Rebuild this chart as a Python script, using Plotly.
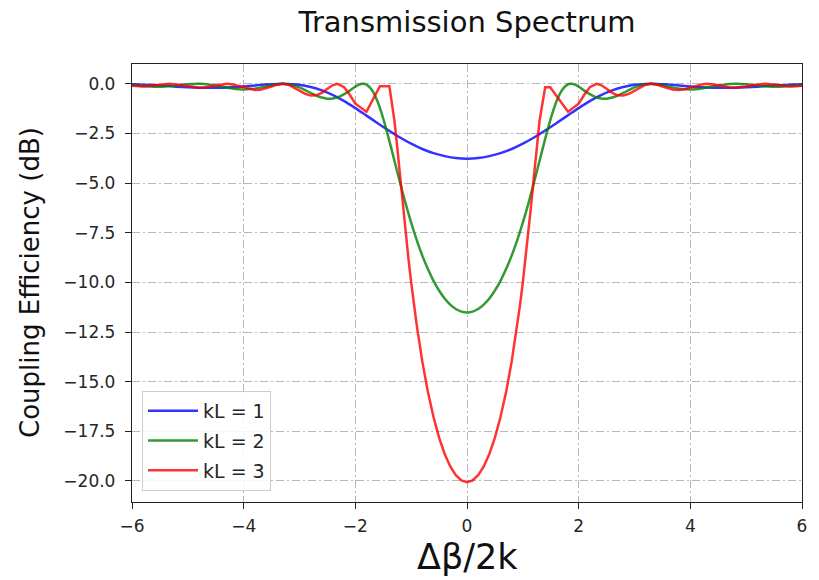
import plotly.graph_objects as go

# ---------------- data ----------------
blue_x_left = [-6.0, -5.8, -5.6, -5.4, -5.2, -5.0, -4.8, -4.6, -4.4, -4.2, -4.0, -3.8, -3.6, -3.4, -3.3, -3.2,
               -3.0, -2.8, -2.6, -2.4, -2.2, -2.0, -1.8, -1.6, -1.4, -1.2, -1.0, -0.8, -0.6, -0.4, -0.2]
blue_y_left = [-0.02, -0.04, -0.07, -0.10, -0.14, -0.17, -0.19, -0.20, -0.19, -0.17, -0.13, -0.08, -0.035, -0.005, 0.0, -0.005,
               -0.05, -0.16, -0.33, -0.57, -0.87, -1.22, -1.60, -1.98, -2.35, -2.70, -3.01, -3.28, -3.49, -3.64, -3.74]
blue_x_right = [0.0, 0.2, 0.4, 0.6, 0.8, 1.0, 1.2, 1.4, 1.6, 1.8, 2.0, 2.2, 2.4, 2.6, 2.8, 3.0,
                3.2, 3.3, 3.4, 3.6, 3.8, 4.0, 4.2, 4.4, 4.6, 4.8, 5.0, 5.2, 5.4, 5.6, 5.8, 6.0]
blue_y_right = [-3.77, -3.74, -3.64, -3.49, -3.28, -3.01, -2.70, -2.35, -1.98, -1.60, -1.22, -0.87, -0.57, -0.33, -0.16, -0.05,
                -0.005, 0.0, -0.005, -0.035, -0.08, -0.13, -0.17, -0.19, -0.20, -0.19, -0.17, -0.14, -0.10, -0.07, -0.04, -0.02]

green_x_left = [-6.0, -5.8, -5.6, -5.4, -5.2, -5.0, -4.8, -4.6, -4.4, -4.2, -4.0, -3.8, -3.6, -3.4, -3.3, -3.2,
                -3.0, -2.9, -2.8, -2.7, -2.6, -2.5, -2.4, -2.3, -2.2, -2.1, -2.0, -1.9, -1.86, -1.8, -1.7, -1.6,
                -1.5, -1.4, -1.3, -1.2, -1.1, -1.0, -0.9, -0.8, -0.7, -0.6, -0.5, -0.4, -0.3, -0.2, -0.1]
green_y_left = [-0.06, -0.11, -0.14, -0.13, -0.08, -0.02, 0.0, -0.04, -0.13, -0.23, -0.28, -0.24, -0.13, -0.02, 0.0, -0.02,
                -0.18, -0.31, -0.46, -0.59, -0.69, -0.75, -0.74, -0.66, -0.52, -0.34, -0.14, -0.01, 0.0, -0.04, -0.32, -0.90,
                -1.75, -2.77, -3.87, -4.97, -6.02, -6.99, -7.87, -8.65, -9.33, -9.92, -10.41, -10.81, -11.12, -11.34, -11.47]
green_x_right = [0.0, 0.1, 0.2, 0.3, 0.4, 0.5, 0.6, 0.7, 0.8, 0.9, 1.0, 1.1, 1.2, 1.3, 1.4, 1.5,
                 1.6, 1.7, 1.8, 1.86, 1.9, 2.0, 2.1, 2.2, 2.3, 2.4, 2.5, 2.6, 2.7, 2.8, 2.9, 3.0,
                 3.2, 3.3, 3.4, 3.6, 3.8, 4.0, 4.2, 4.4, 4.6, 4.8, 5.0, 5.2, 5.4, 5.6, 5.8, 6.0]
green_y_right = [-11.51, -11.47, -11.34, -11.12, -10.81, -10.41, -9.92, -9.33, -8.65, -7.87, -6.99, -6.02, -4.97, -3.87, -2.77, -1.75,
                 -0.90, -0.32, -0.04, 0.0, -0.01, -0.14, -0.34, -0.52, -0.66, -0.74, -0.75, -0.69, -0.59, -0.46, -0.31, -0.18,
                 -0.02, 0.0, -0.02, -0.13, -0.24, -0.28, -0.23, -0.13, -0.04, 0.0, -0.02, -0.08, -0.13, -0.14, -0.11, -0.06]

red_x_left = [-6.0, -5.9, -5.8, -5.7, -5.6, -5.5, -5.4, -5.33, -5.2, -5.1, -5.0, -4.9, -4.8, -4.7, -4.6, -4.5,
              -4.4, -4.3, -4.2, -4.1, -4.0, -3.9, -3.8, -3.7, -3.6, -3.5, -3.4, -3.3, -3.2, -3.1, -3.0, -2.9,
              -2.8, -2.7, -2.6, -2.5, -2.4, -2.32, -2.2, -2.1, -2.0, -1.80, -1.56, -1.39, -1.3, -1.25, -1.2, -1.15,
              -1.1, -1.05, -1.0, -0.95, -0.9, -0.8, -0.7, -0.6, -0.5, -0.4, -0.3, -0.2, -0.1]
red_y_left = [-0.10, -0.12, -0.13, -0.11, -0.08, -0.04, -0.01, 0.0, -0.03, -0.07, -0.13, -0.17, -0.19, -0.18, -0.13, -0.07,
              -0.02, 0.0, -0.03, -0.10, -0.19, -0.27, -0.31, -0.30, -0.23, -0.13, -0.04, 0.0, -0.04, -0.17, -0.34, -0.50,
              -0.59, -0.58, -0.45, -0.25, -0.06, 0.0, -0.17, -0.55, -1.00, -1.40, -0.12, -0.12, -1.85, -3.17, -4.62, -6.07,
              -7.47, -8.78, -10.00, -11.13, -12.16, -13.99, -15.52, -16.78, -17.82, -18.64, -19.27, -19.71, -19.97]
red_x_right = [0.0, 0.1, 0.2, 0.3, 0.4, 0.5, 0.6, 0.7, 0.8, 0.9, 0.95, 1.0, 1.05, 1.1, 1.15, 1.2,
               1.25, 1.3, 1.40, 1.49, 1.81, 2.0, 2.1, 2.2, 2.32, 2.4, 2.5, 2.6, 2.7, 2.8, 2.9, 3.0,
               3.1, 3.2, 3.3, 3.4, 3.5, 3.6, 3.7, 3.8, 3.9, 4.0, 4.1, 4.2, 4.3, 4.4, 4.5, 4.6,
               4.7, 4.8, 4.9, 5.0, 5.1, 5.2, 5.33, 5.4, 5.5, 5.6, 5.7, 5.8, 5.9, 6.0]
red_y_right = [-20.06, -19.97, -19.71, -19.27, -18.64, -17.82, -16.78, -15.52, -13.99, -12.16, -11.13, -10.00, -8.78, -7.47, -6.07, -4.62,
               -3.17, -1.85, -0.17, -0.17, -1.40, -1.00, -0.55, -0.17, 0.0, -0.06, -0.25, -0.45, -0.58, -0.59, -0.50, -0.34,
               -0.17, -0.04, 0.0, -0.04, -0.13, -0.23, -0.30, -0.31, -0.27, -0.19, -0.10, -0.03, 0.0, -0.02, -0.07, -0.13,
               -0.18, -0.19, -0.17, -0.13, -0.07, -0.03, 0.0, -0.01, -0.04, -0.08, -0.11, -0.13, -0.12, -0.10]

series_names = ["kL = 1", "kL = 2", "kL = 3"]

x_tick_vals = [-6, -4, -2, 0, 2, 4, 6]
x_tick_text = ["\u22126", "\u22124", "\u22122", "0", "2", "4", "6"]
y_tick_vals = [0.0, -2.5, -5.0, -7.5, -10.0, -12.5, -15.0, -17.5, -20.0]
y_tick_text = ["0.0", "\u22122.5", "\u22125.0", "\u22127.5", "\u221210.0", "\u221212.5", "\u221215.0", "\u221217.5", "\u221220.0"]

title_text = "Transmission Spectrum"
x_label = "\u0394\u03b2/2k"
y_label = "Coupling Efficiency (dB)"

# ---------------- figure ----------------
FONT = "DejaVu Sans"
colors = ["rgba(0,0,255,0.8)", "rgba(0,128,0,0.8)", "rgba(255,0,0,0.8)"]

# the page body margin is removed (post_script), so the figure fills the window
W, H = 819, 580
L, R, T, B = 132, 17, 64, 78
PW, PH = W - L - R, H - T - B

fig = go.Figure()
fig.add_trace(go.Scatter(x=blue_x_left + blue_x_right, y=blue_y_left + blue_y_right, mode="lines",
                         name=series_names[0], legendgroup="a",
                         line=dict(color=colors[0], width=2.5, shape="spline", smoothing=0.8)))
fig.add_trace(go.Scatter(x=green_x_left + green_x_right, y=green_y_left + green_y_right, mode="lines",
                         name=series_names[1], legendgroup="b",
                         line=dict(color=colors[1], width=2.5, shape="spline", smoothing=0.8)))
fig.add_trace(go.Scatter(x=red_x_left + red_x_right, y=red_y_left + red_y_right, mode="lines",
                         name=series_names[2], legendgroup="c",
                         line=dict(color=colors[2], width=2.5)))

axis_common = dict(
    showline=True, linecolor="#222222", linewidth=1.3, mirror=True,
    ticks="outside", ticklen=6, tickwidth=1.3, tickcolor="#222222",
    showgrid=True, gridcolor="#b8b8b8", gridwidth=1, griddash="8px,3px,2px,3px",
    zeroline=False, tickfont=dict(family=FONT, size=17, color="#262626"),
)

fig.update_layout(
    width=W, height=H,
    margin=dict(l=L, r=R, t=T, b=B),
    paper_bgcolor="white", plot_bgcolor="white",
    showlegend=True,
    title=dict(text=title_text, x=0.5, xref="paper", xanchor="center",
               y=1 - 22 / H, yref="container", yanchor="middle",
               font=dict(family=FONT, size=29, color="#111111")),
    xaxis=dict(range=[-6, 6], tickvals=x_tick_vals, ticktext=x_tick_text,
               ticklabelstandoff=2, **axis_common),
    yaxis=dict(range=[-21.06, 1.0], tickvals=y_tick_vals, ticktext=y_tick_text,
               ticklabelstandoff=6, **axis_common),
    legend=dict(x=(142 - 132) / PW, y=(502 - 491) / PH, xanchor="left", yanchor="bottom",
                bgcolor="rgba(255,255,255,0.85)", bordercolor="#cccccc", borderwidth=1,
                font=dict(family=FONT, size=19, color="#262626"),
                itemwidth=50, traceorder="grouped", tracegroupgap=2),
    annotations=[
        dict(text=x_label, xref="paper", yref="paper", x=0.5, y=-(557 - 502) / PH,
             xanchor="center", yanchor="middle", showarrow=False,
             font=dict(family=FONT, size=35, color="#111111")),
        dict(text=y_label, xref="paper", yref="paper", x=-(132 - 30) / PW, y=0.5,
             xanchor="center", yanchor="middle", showarrow=False, textangle=-90,
             font=dict(family=FONT, size=26, color="#111111")),
    ],
)

fig.write_html("out.html",
               config={"displayModeBar": False},
               post_script="document.body.style.margin='0';document.body.style.overflow='hidden';")
